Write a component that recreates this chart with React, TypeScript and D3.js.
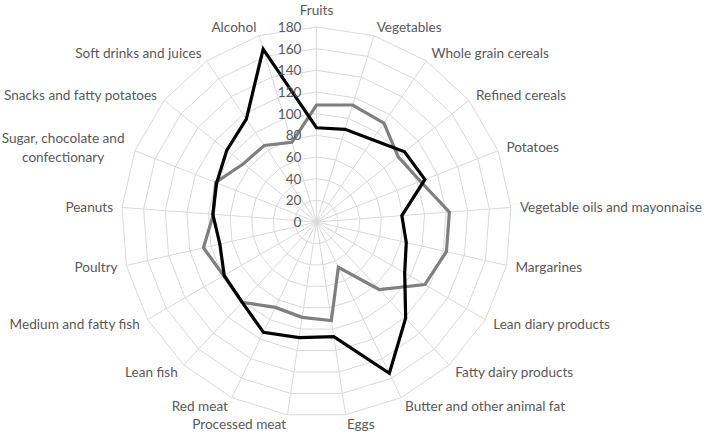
import React from "react";
import * as d3 from "d3";

const categories: string[] = [
  "Fruits",
  "Vegetables",
  "Whole grain cereals",
  "Refined cereals",
  "Potatoes",
  "Vegetable oils and mayonnaise",
  "Margarines",
  "Lean diary products",
  "Fatty dairy products",
  "Butter and other animal fat",
  "Eggs",
  "Processed meat",
  "Red meat",
  "Lean fish",
  "Medium and fatty fish",
  "Poultry",
  "Peanuts",
  "Sugar, chocolate and confectionary",
  "Snacks and fatty potatoes",
  "Soft drinks and juices",
  "Alcohol",
];

const seriesBlack: number[] = [
  87, 89.5, 92, 104, 107.5, 79, 85, 94, 121, 155, 107, 108, 113, 101, 98.4, 91.5, 96, 99, 106, 115, 167,
];
const seriesGray: number[] = [
  108, 113, 110.5, 96.5, 103, 123, 123, 115.5, 85, 46.5, 92, 89, 87.5, 101, 99, 107, 95.5, 100, 86.3, 85.5, 77,
];
const tickValues: number[] = [0, 20, 40, 60, 80, 100, 120, 140, 160, 180];

const W = 709;
const H = 433;
const cx = 316.5;
const cy = 222;
const R = 195;
const maxV = 180;
const FONT = "Lato, 'Liberation Sans', sans-serif";
const TEXT = "#595959";
const FS = 13.6;

export default function App() {
  const n = categories.length;
  const r = d3.scaleLinear().domain([0, maxV]).range([0, R]);
  const angle = d3
    .scaleLinear()
    .domain([0, n])
    .range([0, 2 * Math.PI]);
  const pt = (i: number, v: number): [number, number] => {
    const a = angle(i);
    return [cx + r(v) * Math.sin(a), cy - r(v) * Math.cos(a)];
  };
  const closed = d3.line<[number, number]>().curve(d3.curveLinearClosed);

  const rings = tickValues.filter((t) => t > 0).map((t) =>
    closed(categories.map((_, i) => pt(i, t)))
  );

  const seriesPath = (vals: number[]) => closed(vals.map((v, i) => pt(i, v)));

  const labelR = R + 9;
  const labels = categories.map((c, i) => {
    const a = angle(i);
    const x = cx + labelR * Math.sin(a);
    const y = cy - labelR * Math.cos(a);
    const s = Math.sin(a);
    let anchor: "start" | "end" | "middle" = "middle";
    if (s > 0.05) anchor = "start";
    else if (s < -0.05) anchor = "end";
    return { c, x, y, anchor, i };
  });

  return (
    <svg
      width={W}
      height={H}
      style={{ position: "absolute", left: 0, top: 0, background: "#fff" }}
      fontFamily={FONT}
    >
      <rect x={0} y={0} width={W} height={H} fill="#fff" />
      <g>
        {rings.map((d, k) => (
          <path key={k} d={d || ""} fill="none" stroke="#d9d9d9" strokeWidth={1} />
        ))}
        {categories.map((_, i) => {
          const [x, y] = pt(i, maxV);
          return <line key={i} x1={cx} y1={cy} x2={x} y2={y} stroke="#d9d9d9" strokeWidth={1} />;
        })}
      </g>
      <path d={seriesPath(seriesGray) || ""} fill="none" stroke="#7f7f7f" strokeWidth={3.2} strokeLinejoin="miter" />
      <path d={seriesPath(seriesBlack) || ""} fill="none" stroke="#000" strokeWidth={3.2} strokeLinejoin="miter" />
      {tickValues.map((t) => (
        <text
          key={t}
          x={cx - 15}
          y={cy - r(t)}
          textAnchor="end"
          dominantBaseline="central"
          fontSize={FS}
          fill={TEXT}
        >
          {t}
        </text>
      ))}
      {labels.map((l) => {
        if (l.c.startsWith("Sugar")) {
          const bx = l.x;
          return (
            <text key={l.i} fontSize={FS} fill={TEXT} textAnchor="middle">
              <tspan x={bx - 63.5} y={l.y - 9.5} dominantBaseline="central">
                Sugar, chocolate and
              </tspan>
              <tspan x={bx - 63.5} y={l.y + 9.5} dominantBaseline="central">
                confectionary
              </tspan>
            </text>
          );
        }
        let y = l.y;
        if (l.i === 0) y = 10;
        return (
          <text
            key={l.i}
            x={l.x}
            y={y}
            textAnchor={l.anchor}
            dominantBaseline="central"
            fontSize={FS}
            fill={TEXT}
          >
            {l.c}
          </text>
        );
      })}
    </svg>
  );
}
